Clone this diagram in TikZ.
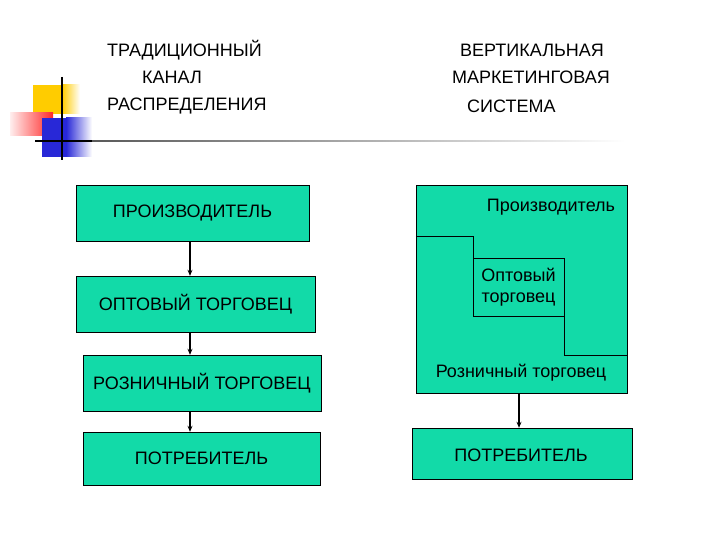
\documentclass[tikz,border=0pt]{standalone}
\usepackage{fontspec}
\setmainfont{Liberation Sans}
\usepackage{tikz}
\usetikzlibrary{arrows.meta, positioning, calc}

\definecolor{boxgreen}{RGB}{18,218,168}
\definecolor{decoyellow}{RGB}{255,204,0}
\definecolor{decored}{RGB}{255,40,40}
\definecolor{decoblue}{RGB}{40,40,215}

\tikzset{
  chainbox/.style={draw=black, fill=boxgreen, thin, inner sep=0pt,
    font=\fontsize{18}{21}\selectfont},
  headtext/.style={inner sep=0pt, anchor=west, font=\fontsize{18}{21}\selectfont},
  flowarrow/.style={-{Stealth[length=6pt,width=5pt]}, line width=1.1pt}
}

\begin{document}
\begin{tikzpicture}[x=1pt, y=-1pt]
  \useasboundingbox (0,0) rectangle (720,540);

  % украшение слева сверху
  \fill[decoyellow] (33,85) rectangle (62,114);
  \shade[left color=decoyellow, right color=white] (62,85) rectangle (80,114);
  \shade[left color=decored!8, right color=decored] (10,113) rectangle (53,136);
  \fill[decoblue] (42,118) rectangle (66,157);
  \shade[left color=decoblue, right color=white] (66,118) rectangle (92,157);
  \draw[line width=1.6pt] (62,77) -- (62,160);
  \draw[line width=1.6pt] (35,141) -- (92,141);
  \shade[left color=black!65, right color=white] (92,140.2) rectangle (625,141.8);

  % заголовки
  \node[headtext] (h1) at (107,50) {ТРАДИЦИОННЫЙ};
  \node[headtext] (h2) at (142,77.5) {КАНАЛ};
  \node[headtext] (h3) at (107,106) {РАСПРЕДЕЛЕНИЯ};
  \node[headtext] (v1) at (460,50) {ВЕРТИКАЛЬНАЯ};
  \node[headtext] (v2) at (452,77.5) {МАРКЕТИНГОВАЯ};
  \node[headtext] (v3) at (467,106) {СИСТЕМА};

  % традиционный канал
  \foreach \i/\x/\y/\w/\h/\t in {
      1/192.5/213/233/56/ПРОИЗВОДИТЕЛЬ,
      2/195.5/304/239/56/ОПТОВЫЙ ТОРГОВЕЦ,
      3/202/383/238/56/РОЗНИЧНЫЙ ТОРГОВЕЦ,
      4/201.5/458.5/237/53/ПОТРЕБИТЕЛЬ} {
    \node[chainbox, minimum width=\w pt, minimum height=\h pt] (t\i) at (\x,\y) {\t};
  }
  \coordinate (ax) at (190,0);
  \foreach \i/\j in {1/2,2/3,3/4} {
    \draw[flowarrow] (t\i.south -| ax) -- (t\j.north -| ax);
  }

  % вертикальная маркетинговая система
  \node[chainbox, minimum width=211pt, minimum height=208pt] (vms) at (521.5,289) {};
  \node[chainbox, minimum width=91pt, minimum height=58pt, align=center] (opt)
    at (518.5,287) {Оптовый\\торговец};
  \coordinate (s1) at (0,236);
  \coordinate (s2) at (0,355);
  \draw (vms.west |- s1) -- (opt.west |- s1) -- (opt.north west);
  \draw (opt.south east) -- (opt.east |- s2) -- (vms.east |- s2);
  \node[font=\fontsize{18}{21}\selectfont, inner sep=0pt] (prod) at (551,207) {Производитель};
  \node[font=\fontsize{18}{21}\selectfont, inner sep=0pt] (retail) at (521,373) {Розничный торговец};

  \node[chainbox, minimum width=220pt, minimum height=51pt] (cons) at (522,453.5) {};
  \node[font=\fontsize{18}{21}\selectfont, inner sep=0pt] (consl) at (521,455) {ПОТРЕБИТЕЛЬ};
  \coordinate (va) at ($(vms.south)+(-2.5,0)$);
  \draw[flowarrow] (va) -- (va |- cons.north);
\end{tikzpicture}
\end{document}
